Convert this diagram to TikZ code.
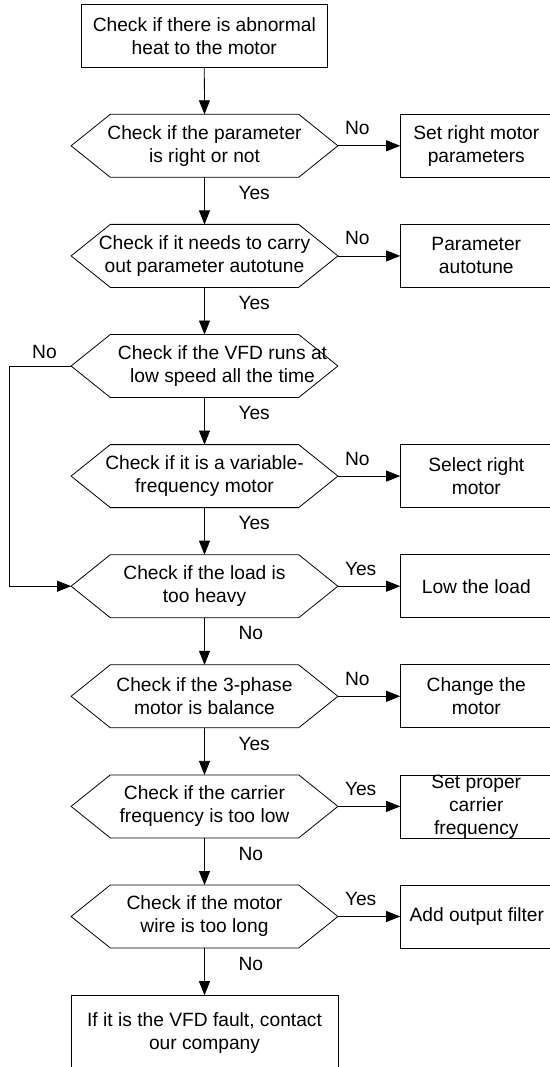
\documentclass[tikz,border=0pt]{standalone}
\usepackage{fontspec}
\setmainfont{Liberation Sans}
\usetikzlibrary{arrows.meta}
\begin{document}
\begin{tikzpicture}[x=1pt,y=-1pt, line width=0.8pt,
  font=\fontsize{19.2}{23}\selectfont,
  hexbox/.style={minimum width=266.8pt,minimum height=63pt,inner sep=0pt,outer sep=0pt,align=center},
  rbox/.style={draw,minimum width=157.8pt,minimum height=63pt,inner sep=0pt,outer sep=0pt,align=center},
  mbox/.style={draw,minimum width=246.2pt,minimum height=63pt,inner sep=0pt,outer sep=0pt,align=center},
  lab/.style={inner sep=0pt,outer sep=0pt},
  arr/.style={-{Triangle[length=14pt,width=11pt]}}]
\useasboundingbox (0,0) rectangle (549,1067);

\node[mbox] (top) at (204.3,35.8) {Check if there is abnormal\\heat to the motor};

\node[hexbox] (h1) at (204.5,145.8) {Check if the parameter\\is right or not};
\node[hexbox] (h2) at (204.5,255.9) {Check if it needs to carry\\out parameter autotune};
\node[hexbox] (h3) at (204.5,366.0) {\hspace*{36pt}Check if the VFD runs at\\\hspace*{36pt}low speed all the time};
\node[hexbox] (h4) at (204.5,476.1) {Check if it is a variable-\\frequency motor};
\node[hexbox] (h5) at (204.5,586.2) {Check if the load is\\too heavy};
\node[hexbox] (h6) at (204.5,696.3) {Check if the 3-phase\\motor is balance};
\node[hexbox] (h7) at (204.5,806.4) {Check if the carrier\\frequency is too low};
\node[hexbox] (h8) at (204.5,916.5) {Check if the motor\\wire is too long};

\foreach \n in {h1,h2,h3,h4,h5,h6,h7,h8}
  \draw (\n.west) -- ([xshift=39.2pt]\n.north west) -- ([xshift=-39.2pt]\n.north east)
        -- (\n.east) -- ([xshift=-39.2pt]\n.south east) -- ([xshift=39.2pt]\n.south west) -- cycle;

\node[rbox] (r1) at (479.1,145.8) {};
\node[lab,align=center] (t1) at (476.3,145.8) {Set right motor\\parameters};
\node[rbox] (r2) at (479.1,255.9) {};
\node[lab,align=center] (t2) at (476.3,255.9) {Parameter\\autotune};
\node[rbox] (r4) at (479.1,476.1) {};
\node[lab,align=center] (t4) at (476.3,476.1) {Select right\\motor};
\node[rbox] (r5) at (479.1,586.2) {};
\node[lab,align=center] (t5) at (476.3,586.2) {Low the load};
\node[rbox] (r6) at (479.1,696.3) {};
\node[lab,align=center] (t6) at (476.3,696.3) {Change the\\motor};
\node[rbox] (r7) at (479.1,806.4) {};
\node[lab,align=center] (t7) at (476.3,806.4) {Set proper\\carrier\\frequency};
\node[rbox] (r8) at (479.1,916.5) {};
\node[lab,align=center] (t8) at (476.8,916.5) {Add output filter};

\node[draw,minimum width=266.8pt,minimum height=76pt,inner sep=0pt,outer sep=0pt,align=center] (end) at (204.5,1033.2) {If it is the VFD fault, contact\\our company};

% vertical arrows
\draw[arr] (top.south) -- (h1.north);
\draw[arr] (h1.south) -- (h2.north);
\draw[arr] (h2.south) -- (h3.north);
\draw[arr] (h3.south) -- (h4.north);
\draw[arr] (h4.south) -- (h5.north);
\draw[arr] (h5.south) -- (h6.north);
\draw[arr] (h6.south) -- (h7.north);
\draw[arr] (h7.south) -- (h8.north);
\draw[arr] (h8.south) -- (end.north);

% horizontal arrows
\draw[arr] (h1.east) -- (r1.west);
\draw[arr] (h2.east) -- (r2.west);
\draw[arr] (h4.east) -- (r4.west);
\draw[arr] (h5.east) -- (r5.west);
\draw[arr] (h6.east) -- (r6.west);
\draw[arr] (h7.east) -- (r7.west);
\draw[arr] (h8.east) -- (r8.west);

% loop
\coordinate (lx) at (9.8,0);
\draw[arr] (h3.west) -- (h3.west -| lx) |- (h5.west);

% labels
\node[lab,anchor=west] (n1) at (345,128.3) {No};
\node[lab,anchor=west] (n2) at (345,238.4) {No};
\node[lab,anchor=west] (n4) at (345,458.6) {No};
\node[lab,anchor=west] (n5) at (345,568.7) {Yes};
\node[lab,anchor=west] (n6) at (345,678.8) {No};
\node[lab,anchor=west] (n7) at (345,788.9) {Yes};
\node[lab,anchor=west] (n8) at (345,899.0) {Yes};
\node[lab] (n3) at (44.5,352) {No};

\node[lab,anchor=west] (y1) at (238.5,193.0) {Yes};
\node[lab,anchor=west] (y2) at (238.5,303.1) {Yes};
\node[lab,anchor=west] (y3) at (238.5,413.2) {Yes};
\node[lab,anchor=west] (y4) at (238.5,523.3) {Yes};
\node[lab,anchor=west] (y5) at (238.5,633.4) {No};
\node[lab,anchor=west] (y6) at (238.5,743.5) {Yes};
\node[lab,anchor=west] (y7) at (238.5,853.6) {No};
\node[lab,anchor=west] (y8) at (238.5,963.7) {No};
\end{tikzpicture}
\end{document}
